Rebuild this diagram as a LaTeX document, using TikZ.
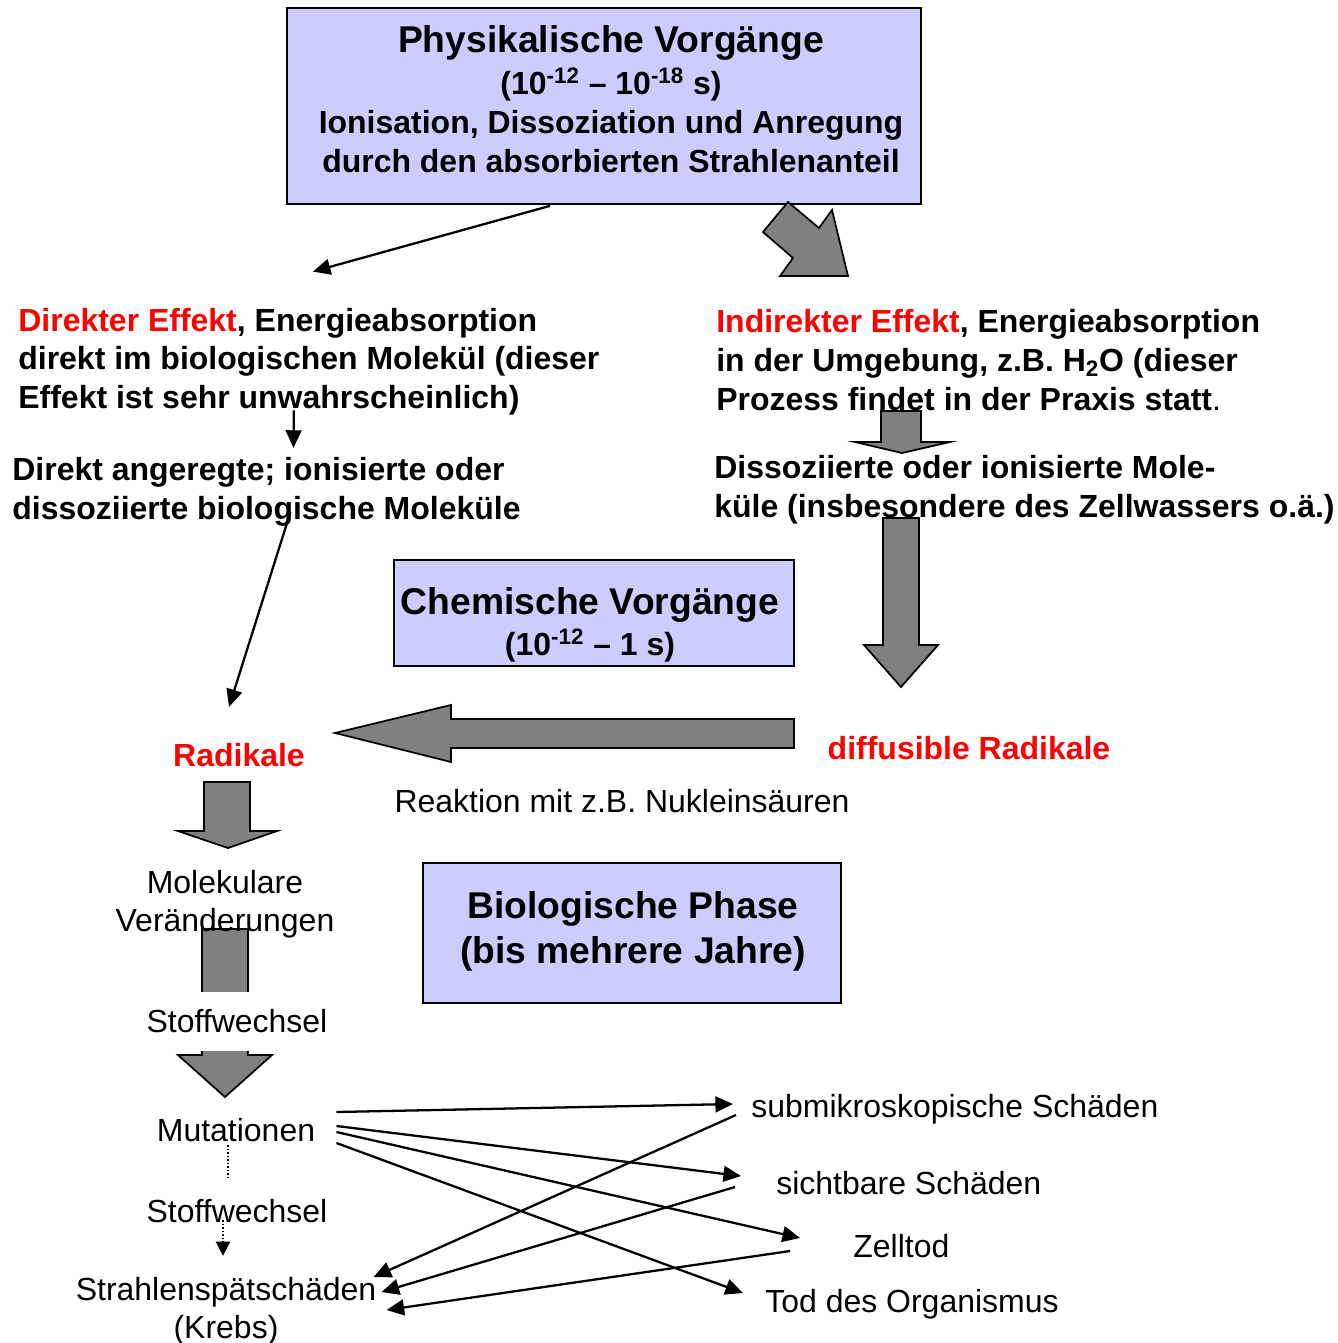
\documentclass[tikz,border=0pt]{standalone}
\usepackage{fontspec}
\setmainfont{Liberation Sans}
\usetikzlibrary{arrows.meta,calc}
\definecolor{lavender}{RGB}{204,204,255}
\definecolor{blockgray}{RGB}{128,128,128}
\begin{document}
\begin{tikzpicture}[x=0.02cm, y=-0.02cm,
		every node/.style={inner sep=0pt, font=\fontsize{18.2}{22}\selectfont\bfseries},
		box/.style={draw, fill=lavender, line width=1pt},
		title/.style={font=\fontsize{21.2}{25.6}\selectfont\bfseries},
		plain/.style={font=\fontsize{18.2}{21.6}\selectfont},
		block/.style={draw, fill=blockgray, line width=1pt},
		thin/.style={-{Triangle[length=10pt,width=9pt]}, line width=1.3pt},
		dots/.style={line width=1pt, dash pattern=on 1pt off 1pt}]
		\useasboundingbox (0,0) rectangle (1338,1343);
		\node (P) at (604,106) [box, minimum width=12.68cm, minimum height=3.92cm] {};
		\node (Pt) at (611,99) [align=center] {{\fontsize{21.2}{25}\selectfont Physikalische Vorgänge}\\[2pt] (10\textsuperscript{-12} – 10\textsuperscript{-18} s)\\ Ionisation, Dissoziation und Anregung\\ durch den absorbierten Strahlenanteil};
		\draw[block] (788,202) -- (819,228) -- (832,210) -- (848,276) -- (780,276) -- (793,258) -- (763,232) -- cycle;
		\draw[block] (881,411) -- (921,411) -- (921,442) -- (950,442) -- (902,453) -- (855,442) -- (881,442) -- cycle;
		\draw[block] (883,518) -- (919,518) -- (919,645) -- (938,645) -- (901,687) -- (864,645) -- (883,645) -- cycle;
		\draw[block] (794,719) -- (794,748) -- (451,748) -- (451,762) -- (335,733) -- (451,705) -- (451,719) -- cycle;
		\draw[block] (204,782) -- (250,782) -- (250,831) -- (277,831) -- (228,848) -- (178,831) -- (204,831) -- cycle;
		\draw[block] (202,929) -- (248,929) -- (248,1055) -- (272,1055) -- (225,1097) -- (178,1055) -- (202,1055) -- cycle;
		\node (DE) at (18,361.5) [anchor=west, align=left] {\textcolor{red}{Direkter Effekt}, Energieabsorption\\ direkt im biologischen Molekül (dieser\\ Effekt ist sehr unwahrscheinlich)};
		\node (IE) at (716,360) [anchor=west, align=left] {\textcolor{red}{Indirekter Effekt}, Energieabsorption\\ in der Umgebung, z.B. H\textsubscript{2}O (dieser\\ Prozess findet in der Praxis statt{\mdseries .}};
		\node (DA) at (12,491.5) [anchor=west, align=left] {Direkt angeregte; ionisierte oder\\ dissoziierte biologische Moleküle};
		\node (DI) at (714,489.5) [anchor=west, align=left] {Dissoziierte oder ionisierte Mole-\\ küle (insbesondere des Zellwassers o.ä.)};
		\node (C) at (594,613) [box, minimum width=8cm, minimum height=2.12cm] {};
		\node (Ct) at (590,624.5) [align=center] {{\fontsize{21.2}{25}\selectfont Chemische Vorgänge}\\[1.5pt] (10\textsuperscript{-12} – 1 s)};
		\node (R) at (239,755) [text=red] {Radikale};
		\node (DR) at (969,748) [text=red] {diffusible Radikale};
		\node (RN) at (622,801) [plain] {Reaktion mit z.B. Nukleinsäuren};
		\node (B) at (632,933) [box, minimum width=8.36cm, minimum height=2.8cm] {};
		\node (Bt) at (633,931) [title, align=center] {Biologische Phase\\ (bis mehrere Jahre)};
		\node (MV) at (225,904) [plain, align=center] {Molekulare\\ Veränderungen};
		\node (S1) at (237,1021) [plain, fill=white, minimum height=1.18cm] {Stoffwechsel};
		\node (MU) at (236,1130) [plain] {Mutationen};
		\node (S2) at (237,1211) [plain] {Stoffwechsel};
		\node (SK) at (226,1311) [plain, align=center] {Strahlenspätschäden\\ (Krebs)};
		\node (SM) at (751,1109) [plain, anchor=west] {submikroskopische Schäden};
		\node (SB) at (776,1183) [plain, anchor=west] {sichtbare Schäden};
		\node (ZT) at (853,1246) [plain, anchor=west] {Zelltod};
		\node (TO) at (765,1304) [plain, anchor=west] {Tod des Organismus};
		\draw[thin] ($(P.south)+(-54,1)$) to ($(DE.north)+(4,-36)$);
		\draw[thin] ($(DE.south)+(-15,-5)$) to ($(DA.north)+(27,-9)$);
		\draw[thin] ($(DA.south)+(24,-14)$) to ($(R.north)+(-10,-36)$);
		\draw[thin] ($(MU.east)+(21,-18)$) to ($(SM.west)+(-18,-5)$);
		\draw[thin] ($(MU.east)+(21,-4)$) to ($(SB.west)+(-35,-7)$);
		\draw[thin] ($(MU.east)+(21,2)$) to ($(ZT.west)+(-53,-8)$);
		\draw[thin] ($(MU.east)+(21,13)$) to ($(TO.west)+(-22,-11)$);
		\draw[thin] ($(SM.west)+(-15,6)$) to ($(SK.east)+(-3,-34)$);
		\draw[thin] ($(SB.west)+(-41,4)$) to ($(SK.east)+(5,-19)$);
		\draw[thin] ($(ZT.west)+(-63,5)$) to ($(SK.east)+(10,-1)$);
		\draw[dots] ($(MU.south)+(-8,3)$) to ($(S2.north)+(-9,-21)$);
		\draw[dots, -{Triangle[length=8pt,width=8pt]}] ($(S2.south)+(-14,-3)$) to ($(SK.north)+(-3,-21)$);
		\end{tikzpicture}
\end{document}
